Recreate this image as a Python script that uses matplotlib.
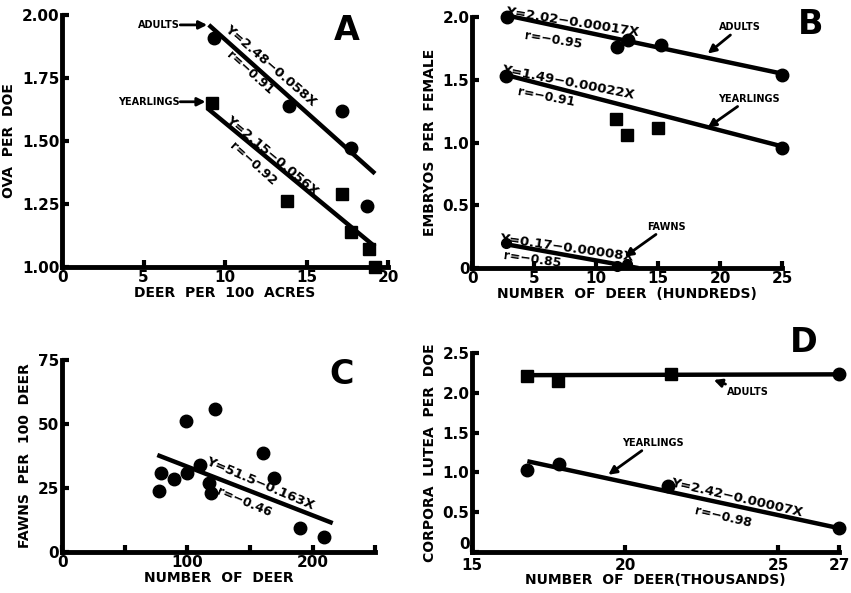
import numpy as np
import matplotlib
matplotlib.use("Agg")
import matplotlib.pyplot as plt

plt.rcParams['font.family'] = ['DejaVu Sans']
plt.rcParams['font.weight'] = 'bold'

# A: ova per doe vs deer per 100 acres
a_adult_x = [9.3, 13.9, 17.2, 17.7, 18.7]
a_adult_y = [1.91, 1.64, 1.62, 1.47, 1.24]
a_adult_fit_x = [9.0, 19.2]
a_adult_fit_y = [1.96, 1.37]
a_year_x = [9.2, 13.8, 17.2, 17.7, 18.8, 19.2]
a_year_y = [1.65, 1.26, 1.29, 1.14, 1.07, 1.00]
a_year_fit_x = [8.9, 19.2]
a_year_fit_y = [1.63, 1.08]

# B: embryos per female vs number of deer (hundreds)
b_adult_x = [2.8, 11.7, 12.6, 15.2, 25.0]
b_adult_y = [2.00, 1.76, 1.82, 1.78, 1.54]
b_adult_fit_x = [2.5, 25.0]
b_adult_fit_y = [2.02, 1.55]
b_year_circ_x = [2.7, 25.0]
b_year_circ_y = [1.53, 0.96]
b_year_sq_x = [11.6, 12.5, 15.0]
b_year_sq_y = [1.19, 1.06, 1.12]
b_year_fit_x = [2.7, 25.0]
b_year_fit_y = [1.54, 0.97]
b_fawn_x = [2.7, 11.7, 12.5]
b_fawn_y = [0.20, 0.02, 0.03]
b_fawn_fit_x = [2.7, 13.4]
b_fawn_fit_y = [0.19, 0.0]

# C: fawns per 100 deer vs number of deer
c_x = [77, 79, 89, 99, 100, 110, 117, 119, 122, 160, 169, 190, 209]
c_y = [24, 31, 28.5, 51, 31, 34, 27, 23, 56, 38.5, 29, 9.4, 6]
c_fit_x = [76, 216]
c_fit_y = [37.9, 11.3]

# D: corpora lutea per doe vs number of deer (thousands)
d_adult_sq_x = [16.8, 17.8, 21.5]
d_adult_sq_y = [2.21, 2.15, 2.23]
d_adult_circ_x = [27.0]
d_adult_circ_y = [2.24]
d_adult_fit_x = [16.8, 27.0]
d_adult_fit_y = [2.22, 2.23]
d_year_x = [16.8, 17.85, 21.4, 27.0]
d_year_y = [1.03, 1.10, 0.83, 0.30]
d_year_fit_x = [16.8, 27.0]
d_year_fit_y = [1.14, 0.30]

fig = plt.figure(figsize=(8.51, 5.93), dpi=100)
axA = fig.add_axes([0.073, 0.550, 0.383, 0.425])
axB = fig.add_axes([0.555, 0.548, 0.364, 0.423])
axC = fig.add_axes([0.073, 0.069, 0.368, 0.324])
axD = fig.add_axes([0.555, 0.069, 0.431, 0.336])

LW = 3.2
ARW = dict(arrowstyle='-|>', color='black', lw=2, mutation_scale=12, shrinkA=0, shrinkB=0)


def style(ax, xlim, ylim, xt, xl, yt, yl):
    ax.set_xlim(*xlim)
    ax.set_ylim(*ylim)
    for s in ['top', 'right']:
        ax.spines[s].set_visible(False)
    for s in ['left', 'bottom']:
        ax.spines[s].set_linewidth(3.5)
    ax.set_xticks(xt)
    ax.set_xticklabels(xl)
    ax.set_yticks(yt)
    ax.set_yticklabels(yl)
    ax.tick_params(direction='in', length=5, width=3, labelsize=11, pad=2)
    for t in ax.get_xticklabels() + ax.get_yticklabels():
        t.set_fontweight('bold')


def pts(ax, x, y, m='o', ms=9):
    ax.plot(x, y, m, color='black', ms=ms, clip_on=False, zorder=3)


def fit(ax, x, y):
    ax.plot(x, y, '-', color='black', lw=LW, clip_on=False, solid_capstyle='butt')


def note(ax, x, y, s, rot, size=9.5):
    ax.text(x, y, s, rotation=rot, rotation_mode='anchor', ha='center', va='center',
            fontsize=size, fontweight='bold')


def tag(ax, s, xy, xytext, size=7):
    ax.annotate(s, xy=xy, xytext=xytext, fontsize=size, fontweight='bold',
                ha='center', va='center', arrowprops=ARW)


# panel A
style(axA, (0, 20), (1.0, 2.0), [0, 5, 10, 15, 20], ['0', '5', '10', '15', '20'],
      [1.0, 1.25, 1.5, 1.75, 2.0], ['1.00', '1.25', '1.50', '1.75', '2.00'])
pts(axA, a_adult_x, a_adult_y)
pts(axA, a_year_x, a_year_y, 's', 8)
fit(axA, a_adult_fit_x, a_adult_fit_y)
fit(axA, a_year_fit_x, a_year_fit_y)
note(axA, 12.8, 1.80, 'Y=2.48\u22120.058X', -41)
note(axA, 11.5, 1.77, 'r=\u22120.91', -42, 9)
note(axA, 12.9, 1.44, 'Y=2.15\u22120.056X', -40)
note(axA, 11.7, 1.41, 'r=\u22120.92', -42, 9)
axA.text(7.2, 1.96, 'ADULTS', fontsize=7, fontweight='bold', ha='right', va='center')
axA.annotate('', xy=(8.9, 1.96), xytext=(7.25, 1.96), arrowprops=ARW)
axA.text(7.2, 1.655, 'YEARLINGS', fontsize=7, fontweight='bold', ha='right', va='center')
axA.annotate('', xy=(8.8, 1.655), xytext=(7.25, 1.655), arrowprops=ARW)
axA.set_xlabel('DEER  PER  100  ACRES', fontsize=10, fontweight='bold', labelpad=1)
axA.set_ylabel('OVA  PER  DOE', fontsize=10, fontweight='bold', labelpad=4)

# panel B
style(axB, (0, 25), (0, 2.0), [0, 5, 10, 15, 20, 25], ['0', '5', '10', '15', '20', '25'],
      [0, 0.5, 1.0, 1.5, 2.0], ['0', '0.5', '1.0', '1.5', '2.0'])
pts(axB, b_adult_x, b_adult_y)
pts(axB, b_year_circ_x, b_year_circ_y)
pts(axB, b_year_sq_x, b_year_sq_y, 's', 8)
pts(axB, b_fawn_x, b_fawn_y, 'o', 7)
fit(axB, b_adult_fit_x, b_adult_fit_y)
fit(axB, b_year_fit_x, b_year_fit_y)
fit(axB, b_fawn_fit_x, b_fawn_fit_y)
note(axB, 8.1, 1.96, 'Y=2.02\u22120.00017X', -9)
note(axB, 6.5, 1.82, 'r=\u22120.95', -9, 9)
note(axB, 7.7, 1.48, 'Y=1.49\u22120.00022X', -11)
note(axB, 6.0, 1.36, 'r=\u22120.91', -11, 9)
note(axB, 7.6, 0.16, 'Y=0.17\u22120.00008X', -8)
note(axB, 4.8, 0.07, 'r=\u22120.85', -8, 9)
tag(axB, 'ADULTS', (19.0, 1.71), (21.6, 1.92))
tag(axB, 'YEARLINGS', (19.0, 1.12), (22.3, 1.35))
tag(axB, 'FAWNS', (12.3, 0.09), (15.7, 0.33))
axB.set_xlabel('NUMBER  OF  DEER  (HUNDREDS)', fontsize=10, fontweight='bold', labelpad=1)
axB.set_ylabel('EMBRYOS  PER  FEMALE', fontsize=10, fontweight='bold', labelpad=4)

# panel C
style(axC, (0, 250), (0, 75), [0, 50, 100, 150, 200, 250], ['0', '', '100', '', '200', ''],
      [0, 25, 50, 75], ['0', '25', '50', '75'])
pts(axC, c_x, c_y)
fit(axC, c_fit_x, c_fit_y)
note(axC, 158, 26.6, 'Y=51.5\u22120.163X', -23)
note(axC, 145, 19.5, 'r=\u22120.46', -23, 9)
axC.set_xlabel('NUMBER  OF  DEER', fontsize=10, fontweight='bold', labelpad=1)
axC.set_ylabel('FAWNS  PER  100  DEER', fontsize=10, fontweight='bold', labelpad=4)

# panel D
style(axD, (15, 27), (0, 2.5), [15, 20, 25, 27], ['15', '20', '25', '27'],
      [0, 0.5, 1.0, 1.5, 2.0, 2.5], ['0', '0.5', '1.0', '1.5', '2.0', '2.5'])
axD.tick_params(axis='x', pad=4)
axD.get_yticklabels()[0].set_va('bottom')
pts(axD, d_adult_sq_x, d_adult_sq_y, 's', 8)
pts(axD, d_adult_circ_x, d_adult_circ_y)
pts(axD, d_year_x, d_year_y)
fit(axD, d_adult_fit_x, d_adult_fit_y)
fit(axD, d_year_fit_x, d_year_fit_y)
note(axD, 23.66, 0.68, 'Y=2.42\u22120.00007X', -13)
note(axD, 23.2, 0.44, 'r=\u22120.98', -13, 9)
tag(axD, 'ADULTS', (22.9, 2.16), (24.0, 2.01))
tag(axD, 'YEARLINGS', (19.45, 0.97), (20.9, 1.37))
axD.set_xlabel('NUMBER  OF  DEER(THOUSANDS)', fontsize=10, fontweight='bold', labelpad=0)
axD.set_ylabel('CORPORA  LUTEA  PER  DOE', fontsize=10, fontweight='bold', labelpad=4)

for s, x, y in [('A', 0.408, 0.949), ('B', 0.952, 0.958), ('C', 0.402, 0.368), ('D', 0.944, 0.422)]:
    fig.text(x, y, s, fontsize=24, fontweight='bold', ha='center', va='center')

fig.savefig('out.png', dpi=100)
